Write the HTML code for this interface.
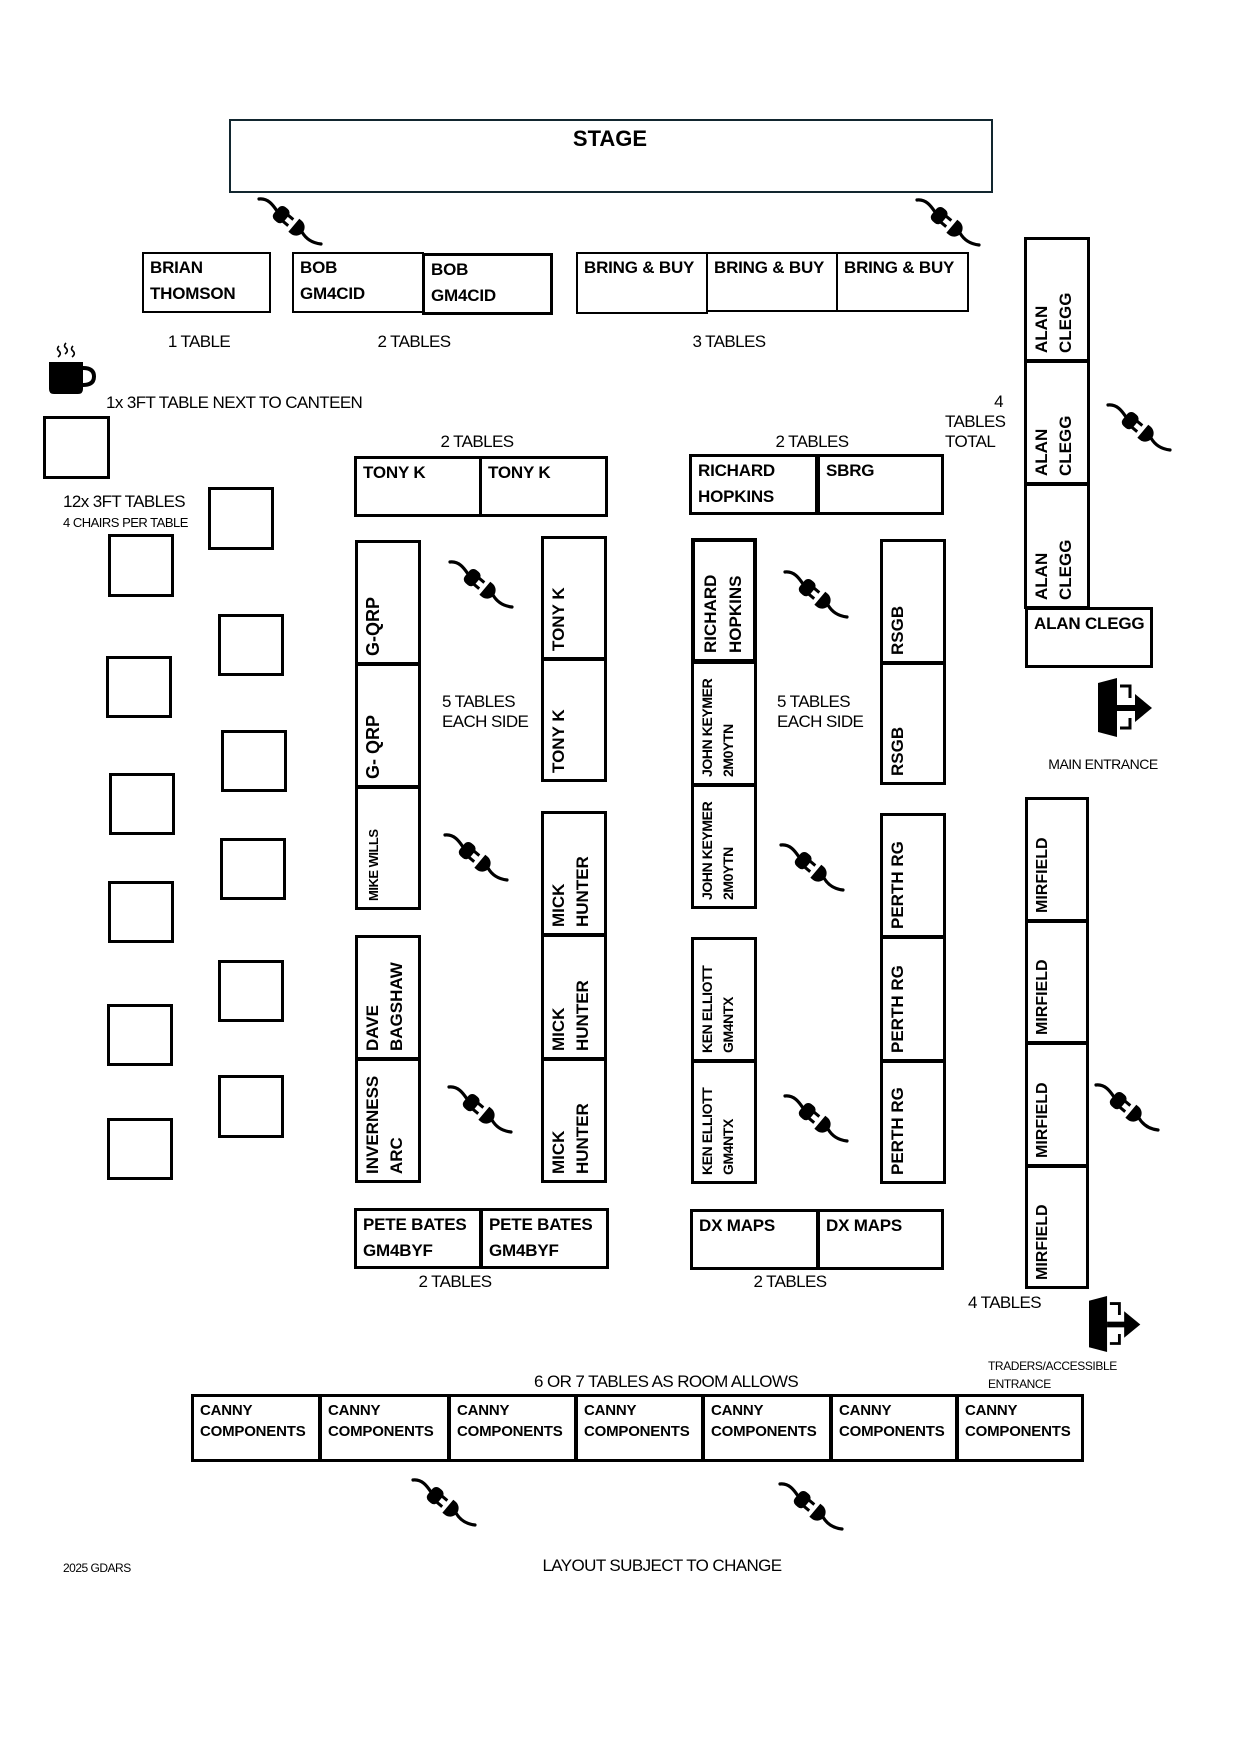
<!DOCTYPE html>
<html>
<head>
<meta charset="utf-8">
<style>
html,body{margin:0;padding:0;background:#fff;}
#pg{position:relative;width:1240px;height:1754px;overflow:hidden;background:#fff;font-family:"Liberation Sans",sans-serif;color:#000;}
.b{position:absolute;box-sizing:border-box;border:3px solid #000;}
.b2{border-width:2px;}
.h{font-weight:bold;font-size:17px;line-height:26px;padding:1px 0 0 6px;white-space:nowrap;letter-spacing:-0.2px;}
.v{position:absolute;left:0;top:100%;transform-origin:0 0;transform:rotate(-90deg);font-weight:bold;font-size:17px;line-height:24px;padding:3px 0 0 6px;white-space:nowrap;}
.l{position:absolute;font-size:17px;line-height:20px;white-space:nowrap;letter-spacing:-0.6px;}
.c{text-align:center;width:240px;}
svg{position:absolute;left:0;top:0;}
</style>
</head>
<body>
<div id="pg">

<!-- STAGE -->
<div class="b b2" style="left:229px;top:119px;width:764px;height:74px;border-color:#12262f;"></div>
<div class="l" style="left:490px;top:128px;width:240px;text-align:center;font-weight:bold;font-size:22px;line-height:22px;letter-spacing:0;">STAGE</div>

<!-- Row 1 -->
<div class="b b2" style="left:142px;top:252px;width:129px;height:61px;"><div class="h">BRIAN<br>THOMSON</div></div>
<div class="b b2" style="left:292px;top:252px;width:132px;height:61px;"><div class="h">BOB<br>GM4CID</div></div>
<div class="b" style="left:422px;top:253px;width:131px;height:62px;"><div class="h">BOB<br>GM4CID</div></div>
<div class="b b2" style="left:576px;top:252px;width:132px;height:62px;"><div class="h">BRING &amp; BUY</div></div>
<div class="b b2" style="left:706px;top:252px;width:132px;height:60px;"><div class="h">BRING &amp; BUY</div></div>
<div class="b b2" style="left:836px;top:252px;width:133px;height:60px;"><div class="h">BRING &amp; BUY</div></div>

<div class="l c" style="left:79px;top:332px;">1 TABLE</div>
<div class="l c" style="left:294px;top:332px;">2 TABLES</div>
<div class="l c" style="left:609px;top:332px;">3 TABLES</div>

<!-- canteen -->
<div class="l" style="left:106px;top:393px;">1x 3FT TABLE NEXT TO CANTEEN</div>
<div class="b" style="left:43px;top:416px;width:67px;height:63px;"></div>
<div class="l" style="left:63px;top:492px;">12x 3FT TABLES</div>
<div class="l" style="left:63px;top:515px;font-size:13px;line-height:16px;letter-spacing:-0.5px;">4 CHAIRS PER TABLE</div>

<!-- small squares -->
<div class="b" style="left:108px;top:534px;width:66px;height:63px;"></div>
<div class="b" style="left:106px;top:656px;width:66px;height:62px;"></div>
<div class="b" style="left:109px;top:773px;width:66px;height:62px;"></div>
<div class="b" style="left:108px;top:881px;width:66px;height:62px;"></div>
<div class="b" style="left:107px;top:1004px;width:66px;height:62px;"></div>
<div class="b" style="left:107px;top:1118px;width:66px;height:62px;"></div>
<div class="b" style="left:208px;top:487px;width:66px;height:63px;"></div>
<div class="b" style="left:218px;top:614px;width:66px;height:62px;"></div>
<div class="b" style="left:221px;top:730px;width:66px;height:62px;"></div>
<div class="b" style="left:220px;top:838px;width:66px;height:62px;"></div>
<div class="b" style="left:218px;top:960px;width:66px;height:62px;"></div>
<div class="b" style="left:218px;top:1075px;width:66px;height:63px;"></div>

<!-- Top pairs -->
<div class="l c" style="left:357px;top:432px;">2 TABLES</div>
<div class="b" style="left:354px;top:456px;width:128px;height:61px;"><div class="h">TONY K</div></div>
<div class="b" style="left:479px;top:456px;width:129px;height:61px;"><div class="h">TONY K</div></div>

<div class="l c" style="left:692px;top:432px;">2 TABLES</div>
<div class="b" style="left:689px;top:454px;width:129px;height:61px;"><div class="h">RICHARD<br>HOPKINS</div></div>
<div class="b" style="left:815px;top:454px;width:129px;height:61px;border-left-width:5px;"><div class="h">SBRG</div></div>

<div class="l" style="left:985px;top:392px;width:18px;text-align:right;">4</div>
<div class="l" style="left:945px;top:412px;">TABLES</div>
<div class="l" style="left:945px;top:432px;">TOTAL</div>

<!-- ALAN CLEGG column -->
<div class="b" style="left:1024px;top:237px;width:66px;height:125px;"><div class="v">ALAN<br>CLEGG</div></div>
<div class="b" style="left:1024px;top:360px;width:66px;height:125px;"><div class="v">ALAN<br>CLEGG</div></div>
<div class="b" style="left:1024px;top:483px;width:66px;height:126px;"><div class="v">ALAN<br>CLEGG</div></div>
<div class="b" style="left:1025px;top:607px;width:128px;height:61px;"><div class="h">ALAN CLEGG</div></div>

<!-- Column 1 -->
<div class="b" style="left:355px;top:540px;width:66px;height:125px;"><div class="v" style="font-size:18px;">G-QRP</div></div>
<div class="b" style="left:355px;top:663px;width:66px;height:125px;"><div class="v" style="font-size:18px;">G- QRP</div></div>
<div class="b" style="left:355px;top:786px;width:66px;height:124px;"><div class="v" style="font-size:13px;letter-spacing:-0.5px;padding-top:4px;">MIKE WILLS</div></div>
<div class="b" style="left:355px;top:935px;width:66px;height:125px;"><div class="v">DAVE<br>BAGSHAW</div></div>
<div class="b" style="left:355px;top:1058px;width:66px;height:125px;"><div class="v">INVERNESS<br>ARC</div></div>

<!-- Column 2 -->
<div class="b" style="left:541px;top:536px;width:66px;height:124px;"><div class="v">TONY K</div></div>
<div class="b" style="left:541px;top:658px;width:66px;height:124px;"><div class="v">TONY K</div></div>
<div class="b" style="left:541px;top:811px;width:66px;height:125px;"><div class="v">MICK<br>HUNTER</div></div>
<div class="b" style="left:541px;top:934px;width:66px;height:126px;"><div class="v">MICK<br>HUNTER</div></div>
<div class="b" style="left:541px;top:1058px;width:66px;height:125px;"><div class="v">MICK<br>HUNTER</div></div>

<div class="l" style="left:442px;top:692px;">5 TABLES</div>
<div class="l" style="left:442px;top:712px;">EACH SIDE</div>

<!-- Column 3 -->
<div class="b" style="left:691px;top:538px;width:66px;height:125px;border-width:4px;"><div class="v" style="line-height:25px;">RICHARD<br>HOPKINS</div></div>
<div class="b" style="left:691px;top:661px;width:66px;height:125px;"><div class="v" style="font-size:14px;line-height:21px;letter-spacing:-0.4px;">JOHN KEYMER<br>2M0YTN</div></div>
<div class="b" style="left:691px;top:784px;width:66px;height:125px;"><div class="v" style="font-size:14px;line-height:21px;letter-spacing:-0.4px;">JOHN KEYMER<br>2M0YTN</div></div>
<div class="b" style="left:691px;top:937px;width:66px;height:125px;"><div class="v" style="font-size:14px;line-height:21px;letter-spacing:-0.4px;">KEN ELLIOTT<br>GM4NTX</div></div>
<div class="b" style="left:691px;top:1060px;width:66px;height:124px;"><div class="v" style="font-size:14px;line-height:21px;letter-spacing:-0.4px;">KEN ELLIOTT<br>GM4NTX</div></div>

<!-- Column 4 -->
<div class="b" style="left:880px;top:539px;width:66px;height:125px;"><div class="v">RSGB</div></div>
<div class="b" style="left:880px;top:662px;width:66px;height:123px;"><div class="v">RSGB</div></div>
<div class="b" style="left:880px;top:813px;width:66px;height:125px;"><div class="v">PERTH RG</div></div>
<div class="b" style="left:880px;top:936px;width:66px;height:126px;"><div class="v">PERTH RG</div></div>
<div class="b" style="left:880px;top:1060px;width:66px;height:124px;"><div class="v">PERTH RG</div></div>

<div class="l" style="left:777px;top:692px;">5 TABLES</div>
<div class="l" style="left:777px;top:712px;">EACH SIDE</div>

<!-- Bottom pairs -->
<div class="b" style="left:354px;top:1208px;width:128px;height:61px;"><div class="h">PETE BATES<br>GM4BYF</div></div>
<div class="b" style="left:480px;top:1208px;width:129px;height:61px;"><div class="h">PETE BATES<br>GM4BYF</div></div>
<div class="l c" style="left:335px;top:1272px;">2 TABLES</div>
<div class="b" style="left:690px;top:1209px;width:129px;height:61px;"><div class="h">DX MAPS</div></div>
<div class="b" style="left:817px;top:1209px;width:127px;height:61px;"><div class="h">DX MAPS</div></div>
<div class="l c" style="left:670px;top:1272px;">2 TABLES</div>

<!-- MIRFIELD -->
<div class="b" style="left:1025px;top:797px;width:64px;height:125px;"><div class="v" style="font-size:16px;">MIRFIELD</div></div>
<div class="b" style="left:1025px;top:920px;width:64px;height:124px;"><div class="v" style="font-size:16px;">MIRFIELD</div></div>
<div class="b" style="left:1025px;top:1042px;width:64px;height:125px;"><div class="v" style="font-size:16px;">MIRFIELD</div></div>
<div class="b" style="left:1025px;top:1165px;width:64px;height:124px;"><div class="v" style="font-size:16px;">MIRFIELD</div></div>
<div class="l" style="left:968px;top:1293px;">4 TABLES</div>

<div class="l" style="left:1003px;top:756px;width:200px;text-align:center;font-size:14px;line-height:16px;letter-spacing:-0.5px;">MAIN ENTRANCE</div>
<div class="l" style="left:988px;top:1359px;font-size:12px;line-height:15px;letter-spacing:-0.4px;">TRADERS/ACCESSIBLE</div>
<div class="l" style="left:988px;top:1377px;font-size:12px;line-height:15px;letter-spacing:-0.4px;">ENTRANCE</div>

<!-- CANNY row -->
<div class="l c" style="left:534px;top:1372px;">6 OR 7 TABLES AS ROOM ALLOWS</div>
<div class="b" style="left:191px;top:1394px;width:130px;height:68px;"><div class="h" style="font-size:15px;line-height:21px;padding-top:3px;">CANNY<br>COMPONENTS</div></div>
<div class="b" style="left:319px;top:1394px;width:131px;height:68px;"><div class="h" style="font-size:15px;line-height:21px;padding-top:3px;">CANNY<br>COMPONENTS</div></div>
<div class="b" style="left:448px;top:1394px;width:129px;height:68px;"><div class="h" style="font-size:15px;line-height:21px;padding-top:3px;">CANNY<br>COMPONENTS</div></div>
<div class="b" style="left:575px;top:1394px;width:129px;height:68px;"><div class="h" style="font-size:15px;line-height:21px;padding-top:3px;">CANNY<br>COMPONENTS</div></div>
<div class="b" style="left:702px;top:1394px;width:130px;height:68px;"><div class="h" style="font-size:15px;line-height:21px;padding-top:3px;">CANNY<br>COMPONENTS</div></div>
<div class="b" style="left:830px;top:1394px;width:128px;height:68px;"><div class="h" style="font-size:15px;line-height:21px;padding-top:3px;">CANNY<br>COMPONENTS</div></div>
<div class="b" style="left:956px;top:1394px;width:128px;height:68px;"><div class="h" style="font-size:15px;line-height:21px;padding-top:3px;">CANNY<br>COMPONENTS</div></div>

<div class="l c" style="left:542px;top:1556px;">LAYOUT SUBJECT TO CHANGE</div>
<div class="l" style="left:63px;top:1561px;font-size:12px;line-height:15px;letter-spacing:-0.5px;">2025 GDARS</div>

<!-- Icons -->
<svg width="1240" height="1754" viewBox="0 0 1240 1754">
  <defs>
    <g id="plug">
      <path d="M-31,-23 C-22,-24 -17,-17 -13,-11" stroke="#000" stroke-width="3.2" fill="none" stroke-linecap="round"/>
      <g transform="rotate(40)">
        <rect x="-18" y="-8.5" width="13" height="17" rx="5" fill="#000"/>
        <rect x="-6" y="-5.5" width="7" height="3" fill="#000"/>
        <rect x="-6" y="2.5" width="7" height="3" fill="#000"/>
        <path d="M5,-8.5 L8,-8.5 A8.5,8.5 0 0 1 8,8.5 L5,8.5 Z" fill="#000"/>
      </g>
      <path d="M12,10 C16,17 22,21 31,22" stroke="#000" stroke-width="3.2" fill="none" stroke-linecap="round"/>
    </g>
    <g id="door">
      <polygon points="0,5 19,0 19,59 0,54" fill="#000"/>
      <path d="M22,8 H32 V20 M32,40 V50 H22" stroke="#000" stroke-width="3" fill="none"/>
      <rect x="19" y="27" width="20" height="6" fill="#000"/>
      <polygon points="37,16 54,30 37,44" fill="#000"/>
    </g>
  </defs>
  <use href="#plug" transform="translate(290,222)"/>
  <use href="#plug" transform="translate(948,223)"/>
  <use href="#plug" transform="translate(1139,428)"/>
  <use href="#plug" transform="translate(481,585)"/>
  <use href="#plug" transform="translate(816,595)"/>
  <use href="#plug" transform="translate(476,858)"/>
  <use href="#plug" transform="translate(812,868)"/>
  <use href="#plug" transform="translate(480,1110)"/>
  <use href="#plug" transform="translate(816,1119)"/>
  <use href="#plug" transform="translate(1127,1108)"/>
  <use href="#plug" transform="translate(444,1503)"/>
  <use href="#plug" transform="translate(811,1507)"/>

  <use href="#door" transform="translate(1098,678)"/>
  <use href="#door" transform="translate(1089,1296) scale(0.95)"/>

  <!-- coffee cup -->
  <path d="M49,362 H83 V389 Q83,394 78,394 H54 Q49,394 49,389 Z" fill="#000"/>
  <path d="M83,368 Q94,368 94,376.5 Q94,385 83,385" stroke="#000" stroke-width="4" fill="none"/>
  <path d="M59,346 q-3,3 0,5 q3,3 -1,6" stroke="#000" stroke-width="1.6" fill="none"/>
  <path d="M66,343 q-3,3 0,5 q3,3 -1,6" stroke="#000" stroke-width="1.6" fill="none"/>
  <path d="M73,346 q-3,3 0,5 q3,3 -1,6" stroke="#000" stroke-width="1.6" fill="none"/>
</svg>

</div>
</body>
</html>
